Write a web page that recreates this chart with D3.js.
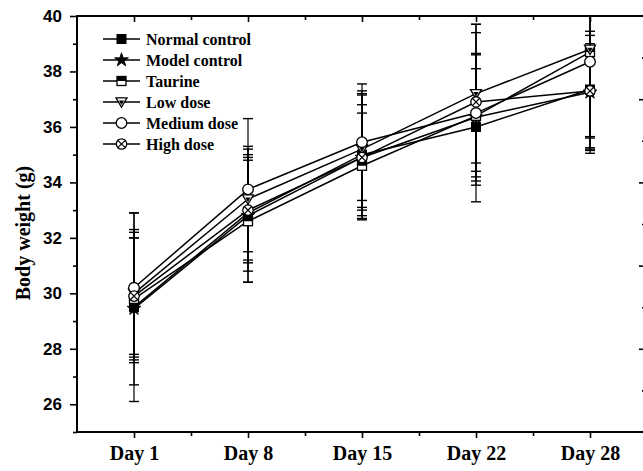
<!DOCTYPE html>
<html>
<head>
<meta charset="utf-8">
<script src="https://cdn.jsdelivr.net/npm/d3@7"></script>
<style>
  html, body { margin: 0; padding: 0; background: #fff; }
  svg { display: block; }
</style>
</head>
<body>
<svg id="chart" width="643" height="471"></svg>
<script>
// ---------- DATA ----------
const days = ["Day 1", "Day 8", "Day 15", "Day 22", "Day 28"];
const seriesNames = ["Normal control", "Model control", "Taurine", "Low dose", "Medium dose", "High dose"];
const normalMean  = [29.50, 32.90, 35.00, 36.00, 37.35];
const normalSD    = [3.40, 2.10, 2.20, 2.10, 2.10];
const modelMean   = [29.45, 32.80, 34.90, 36.35, 37.25];
const modelSD     = [2.75, 2.40, 2.25, 2.30, 2.05];
const taurineMean = [29.80, 32.60, 34.60, 36.40, 38.70];
const taurineSD   = [2.20, 2.20, 1.90, 2.20, 3.55];
const lowMean     = [30.00, 33.40, 35.20, 37.20, 38.80];
const lowSD       = [2.30, 1.90, 2.10, 2.50, 3.15];
const mediumMean  = [30.20, 33.75, 35.45, 36.50, 38.35];
const mediumSD    = [2.70, 2.55, 2.10, 3.20, 3.30];
const highMean    = [29.90, 33.00, 34.90, 36.90, 37.30];
const highSD      = [2.10, 1.90, 1.90, 2.50, 1.70];
const yTickValues = [26, 28, 30, 32, 34, 36, 38, 40];
const yMinorValues = [25, 27, 29, 31, 33, 35, 37, 39];
const neighborMajor = [28, 31, 34, 37];
const neighborMinor = [26.5, 29.5, 32.5, 35.5, 38.5];
const yTitle = "Body weight (g)";

const markerTypes = ["filledSquare", "star", "halfSquare", "downTriangle", "circle", "crossCircle"];
const means = [normalMean, modelMean, taurineMean, lowMean, mediumMean, highMean];
const sds = [normalSD, modelSD, taurineSD, lowSD, mediumSD, highSD];

(function () {
const series = seriesNames.map((name, i) => ({
  name, type: markerTypes[i],
  values: days.map((d, j) => ({ i: j, mean: means[i][j], sd: sds[i][j] }))
}));

// ---------- LAYOUT ----------
const pLeft = 77, pRight = 647, pTop = 16, pBottom = 432;
const svg = d3.select("#chart");
const x = d3.scaleLinear().domain([-0.5, 4.5]).range([pLeft, pRight]);
const y = d3.scaleLinear().domain([25, 40]).range([pBottom, pTop]);

const serif = "'Liberation Serif', 'Times New Roman', serif";
const sans = "'Liberation Sans', Arial, sans-serif";

svg.append("defs").append("clipPath").attr("id", "plotclip")
  .append("rect").attr("x", pLeft).attr("y", pTop).attr("width", pRight - pLeft).attr("height", pBottom - pTop);

// ---------- MARKERS ----------
function drawMarker(g, type, cx, cy) {
  const m = g.append("g").attr("transform", `translate(${cx},${cy})`);
  const s = 4.5;
  if (type === "filledSquare") {
    m.append("rect").attr("x", -s).attr("y", -s).attr("width", 2 * s).attr("height", 2 * s)
      .attr("fill", "#000").attr("stroke", "#000").attr("stroke-width", 1);
  } else if (type === "star") {
    m.append("path").attr("d", d3.symbol(d3.symbolStar, 60)())
      .attr("fill", "#000").attr("stroke", "#000").attr("stroke-width", 0.8);
  } else if (type === "halfSquare") {
    m.append("rect").attr("x", -s).attr("y", -s).attr("width", 2 * s).attr("height", 2 * s)
      .attr("fill", "#fff").attr("stroke", "#000").attr("stroke-width", 1.3);
    m.append("rect").attr("x", -s).attr("y", -s).attr("width", 2 * s).attr("height", s)
      .attr("fill", "#000");
  } else if (type === "downTriangle") {
    const t = 5.5;
    m.append("path").attr("d", `M${-t},${-t * 0.75}L${t},${-t * 0.75}L0,${t * 0.95}Z`)
      .attr("fill", "#fff").attr("stroke", "#000").attr("stroke-width", 1.3);
    const u = 2.6;
    m.append("path").attr("d", `M${-u},${-u * 0.6}L${u},${-u * 0.6}L0,${u * 1.2}Z`)
      .attr("fill", "#000");
  } else if (type === "circle") {
    m.append("circle").attr("r", 5.3).attr("fill", "#fff").attr("stroke", "#000").attr("stroke-width", 1.3);
  } else if (type === "crossCircle") {
    const r = 5.2;
    m.append("circle").attr("r", r).attr("fill", "#fff").attr("stroke", "#000").attr("stroke-width", 1.3);
    const k = r * 0.7071;
    m.append("path").attr("d", `M${-k},${-k}L${k},${k}M${-k},${k}L${k},${-k}`)
      .attr("stroke", "#000").attr("stroke-width", 1.2);
  }
}

// ---------- ERROR BARS ----------
const eb = svg.append("g").attr("clip-path", "url(#plotclip)");
const capW = 5;
series.forEach(s => {
  s.values.forEach(v => {
    const cx = x(v.i);
    const y1 = y(v.mean + v.sd), y2 = y(v.mean - v.sd);
    eb.append("line").attr("x1", cx).attr("x2", cx).attr("y1", y1).attr("y2", y2)
      .attr("stroke", "#000").attr("stroke-width", 1.2);
    [y1, y2].forEach(yy => eb.append("line").attr("x1", cx - capW).attr("x2", cx + capW)
      .attr("y1", yy).attr("y2", yy).attr("stroke", "#000").attr("stroke-width", 1.4));
  });
});

// ---------- LINES + MARKERS ----------
const line = d3.line().x(d => x(d.i)).y(d => y(d.mean));
series.forEach(s => {
  svg.append("path").datum(s.values).attr("d", line)
    .attr("fill", "none").attr("stroke", "#000").attr("stroke-width", 1.5);
});
series.forEach(s => {
  const g = svg.append("g");
  s.values.forEach(v => drawMarker(g, s.type, x(v.i), y(v.mean)));
});

// ---------- AXES ----------
const axisStroke = 2;
const gl = svg.append("g").attr("transform", `translate(${pLeft},0)`)
  .call(d3.axisLeft(y).tickValues(yTickValues).tickSize(7).tickPadding(8).tickFormat(d3.format("d")));
gl.append("g").call(d3.axisLeft(y).tickValues(yMinorValues).tickSize(4).tickFormat(""));
const xMajor = days.map((d, i) => i);
const xMinor = [0.5, 1.5, 2.5, 3.5];
const gb = svg.append("g").attr("transform", `translate(0,${pBottom})`)
  .call(d3.axisBottom(x).tickValues(xMajor).tickSize(6).tickFormat(i => days[i]));
gb.append("g").call(d3.axisBottom(x).tickValues(xMinor).tickSize(4).tickFormat(""));
const gt = svg.append("g").attr("transform", `translate(0,${pTop})`)
  .call(d3.axisBottom(x).tickValues(xMajor).tickSize(6).tickFormat(""));
gt.append("g").call(d3.axisBottom(x).tickValues(xMinor).tickSize(4).tickFormat(""));
const gr = svg.append("g").attr("transform", `translate(${pRight},0)`)
  .call(d3.axisLeft(y).tickValues(neighborMajor).tickSize(8).tickFormat(""));
gr.append("g").call(d3.axisLeft(y).tickValues(neighborMinor).tickSize(5).tickFormat(""));

[gl, gb, gt, gr].forEach(g => {
  g.selectAll(".domain").remove();
  g.selectAll(".tick line").attr("stroke", "#000").attr("stroke-width", 1.6);
});
gl.selectAll(".tick text").attr("font-family", sans).attr("font-weight", "bold")
  .attr("font-size", 17).attr("fill", "#000");
gb.selectAll(".tick text").attr("font-family", serif).attr("font-weight", "bold")
  .attr("font-size", 20).attr("fill", "#000").attr("y", 28).attr("dy", 0);

svg.append("line").attr("x1", pLeft).attr("x2", pLeft).attr("y1", pTop - 1).attr("y2", pBottom + 1)
  .attr("stroke", "#000").attr("stroke-width", axisStroke);
svg.append("line").attr("x1", pLeft - 1).attr("x2", pRight).attr("y1", pBottom).attr("y2", pBottom)
  .attr("stroke", "#000").attr("stroke-width", axisStroke);
svg.append("line").attr("x1", pLeft - 1).attr("x2", pRight).attr("y1", pTop).attr("y2", pTop)
  .attr("stroke", "#000").attr("stroke-width", axisStroke);
svg.append("line").attr("x1", pRight).attr("x2", pRight).attr("y1", pTop).attr("y2", pBottom)
  .attr("stroke", "#000").attr("stroke-width", axisStroke);

svg.append("text").attr("transform", `translate(23,233) rotate(-90)`)
  .attr("text-anchor", "middle").attr("dominant-baseline", "central")
  .attr("font-family", serif).attr("font-weight", "bold").attr("font-size", 20)
  .attr("fill", "#000").text(yTitle);

// ---------- LEGEND ----------
const legend = svg.append("g");
const lx0 = 103, lx1 = 140, lmx = 121.5, ltx = 146, ly0 = 39, ldy = 21;
series.forEach((s, i) => {
  const yy = ly0 + i * ldy;
  legend.append("line").attr("x1", lx0).attr("x2", lx1).attr("y1", yy).attr("y2", yy)
    .attr("stroke", "#000").attr("stroke-width", 1.4);
  drawMarker(legend, s.type, lmx, yy);
  legend.append("text").attr("x", ltx).attr("y", yy).attr("dominant-baseline", "central")
    .attr("font-family", serif).attr("font-weight", "bold").attr("font-size", 16)
    .attr("fill", "#000").text(s.name);
});
})();
</script>
</body>
</html>
